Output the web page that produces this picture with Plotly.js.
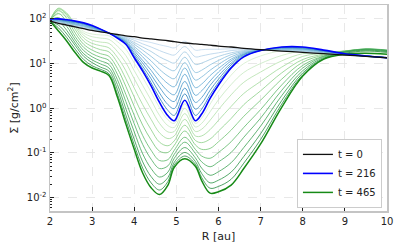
<!DOCTYPE html>
<html><head><meta charset="utf-8">
<script src="https://cdn.plot.ly/plotly-3.0.1.min.js"></script>
<style>html,body{margin:0;padding:0;background:#fff}</style>
</head><body><div id="chart" style="width:398px;height:247px"></div>
<script>
// Radial grid [au]
const R_au = [2.0,2.2,2.4,2.6,2.8,3.0,3.2,3.4,3.6,3.8,4.0,4.2,4.4,4.6,4.8,4.95,5.2,5.45,5.6,5.8,6.0,6.3,6.6,7.0,7.5,8.0,8.5,9.0,9.5,10.0];

// log10 of surface density Sigma [g/cm^2]
const logSigma_t0   = [1.95,1.90,1.86,1.82,1.78,1.74,1.71,1.68,1.65,1.62,1.60,1.57,1.55,1.53,1.51,1.49,1.46,1.44,1.43,1.41,1.39,1.37,1.34,1.31,1.28,1.25,1.22,1.19,1.16,1.13];
const logSigma_t216 = [2.00,2.00,1.98,1.95,1.91,1.85,1.77,1.68,1.57,1.43,1.13,0.83,0.50,0.13,-0.17,-0.28,0.18,-0.28,-0.13,0.22,0.52,0.90,1.15,1.29,1.37,1.37,1.30,1.22,1.17,1.13];
const logSigma_t465 = [1.95,1.73,1.50,1.24,1.02,0.90,0.83,0.73,0.25,-0.35,-0.92,-1.45,-1.78,-1.93,-1.72,-1.32,-1.13,-1.30,-1.62,-1.90,-1.87,-1.72,-1.35,-0.80,0.02,0.72,1.10,1.21,1.23,1.21];

// intermediate snapshots between t = 0 and t = 216 (blue family)
const blue_1  = [1.95,1.91,1.87,1.83,1.79,1.75,1.71,1.68,1.64,1.60,1.56,1.51,1.47,1.42,1.38,1.35,1.50,1.30,1.31,1.32,1.32,1.33,1.33,1.31,1.29,1.26,1.23,1.19,1.16,1.13];
const blue_2  = [1.96,1.92,1.88,1.84,1.80,1.76,1.72,1.68,1.64,1.59,1.52,1.44,1.37,1.29,1.22,1.19,1.38,1.15,1.17,1.21,1.24,1.29,1.31,1.31,1.30,1.27,1.23,1.20,1.16,1.13];
const blue_3  = [1.96,1.93,1.89,1.86,1.82,1.77,1.73,1.68,1.63,1.57,1.47,1.37,1.27,1.15,1.06,1.01,1.26,0.98,1.01,1.09,1.16,1.24,1.29,1.31,1.30,1.28,1.24,1.20,1.16,1.13];
const blue_4  = [1.97,1.94,1.90,1.87,1.83,1.78,1.73,1.68,1.62,1.55,1.43,1.30,1.16,1.01,0.89,0.84,1.14,0.80,0.85,0.97,1.07,1.20,1.27,1.30,1.31,1.29,1.25,1.20,1.16,1.13];
const blue_5  = [1.97,1.95,1.92,1.88,1.84,1.79,1.74,1.68,1.61,1.53,1.38,1.22,1.06,0.87,0.72,0.66,1.02,0.63,0.70,0.85,0.98,1.15,1.25,1.30,1.32,1.31,1.26,1.20,1.16,1.13];
const blue_6  = [1.98,1.96,1.93,1.89,1.85,1.80,1.74,1.68,1.60,1.51,1.33,1.15,0.95,0.73,0.55,0.48,0.90,0.46,0.54,0.73,0.89,1.10,1.23,1.30,1.33,1.32,1.27,1.21,1.17,1.13];
const blue_7  = [1.98,1.97,1.94,1.91,1.87,1.81,1.75,1.68,1.60,1.49,1.29,1.07,0.85,0.59,0.38,0.30,0.76,0.29,0.39,0.61,0.81,1.06,1.21,1.30,1.34,1.33,1.27,1.21,1.17,1.13];
const blue_8  = [1.99,1.98,1.95,1.92,1.88,1.82,1.76,1.68,1.59,1.48,1.24,1.01,0.75,0.47,0.23,0.15,0.60,0.13,0.24,0.51,0.73,1.01,1.20,1.30,1.35,1.34,1.28,1.21,1.17,1.13];
const blue_9  = [1.99,1.99,1.96,1.93,1.89,1.83,1.76,1.68,1.58,1.46,1.20,0.94,0.66,0.34,0.08,-0.01,0.45,-0.02,0.10,0.40,0.65,0.97,1.18,1.29,1.36,1.35,1.29,1.22,1.17,1.13];
const blue_10 = [2.00,1.99,1.97,1.94,1.90,1.84,1.77,1.68,1.58,1.44,1.16,0.88,0.57,0.23,-0.05,-0.16,0.32,-0.16,-0.02,0.30,0.58,0.93,1.16,1.29,1.36,1.36,1.29,1.22,1.17,1.13];

// intermediate snapshots between t = 216 and t = 465 (green family)
const green_1  = [1.97,2.10,2.05,1.90,1.72,1.66,1.64,1.62,1.49,1.32,1.01,0.69,0.36,0.01,-0.26,-0.34,0.10,-0.34,-0.22,0.09,0.38,0.74,1.00,1.17,1.29,1.33,1.29,1.25,1.23,1.20];
const green_2  = [1.97,2.16,2.10,1.88,1.68,1.60,1.57,1.54,1.39,1.18,0.84,0.51,0.18,-0.16,-0.39,-0.43,0.00,-0.42,-0.34,-0.08,0.19,0.53,0.80,1.00,1.18,1.28,1.27,1.27,1.28,1.24];
const green_3  = [1.97,2.21,2.13,1.86,1.63,1.52,1.48,1.45,1.27,1.02,0.66,0.31,-0.02,-0.34,-0.53,-0.52,-0.12,-0.52,-0.47,-0.27,-0.03,0.30,0.58,0.81,1.06,1.22,1.25,1.28,1.30,1.27];
const green_4  = [1.97,2.24,2.12,1.82,1.57,1.45,1.40,1.35,1.14,0.84,0.45,0.08,-0.25,-0.55,-0.68,-0.62,-0.25,-0.62,-0.62,-0.48,-0.27,0.04,0.33,0.60,0.92,1.16,1.23,1.28,1.31,1.28];
const green_5  = [1.97,2.23,2.08,1.76,1.50,1.38,1.31,1.26,1.02,0.66,0.25,-0.15,-0.48,-0.76,-0.84,-0.73,-0.38,-0.72,-0.77,-0.69,-0.51,-0.23,0.08,0.39,0.79,1.09,1.21,1.28,1.32,1.28];
const green_6  = [1.96,2.19,2.01,1.68,1.43,1.30,1.22,1.16,0.89,0.49,0.04,-0.38,-0.71,-0.96,-0.99,-0.83,-0.51,-0.82,-0.92,-0.90,-0.75,-0.49,-0.18,0.18,0.65,1.03,1.19,1.28,1.32,1.29];
const green_7  = [1.96,2.12,1.92,1.60,1.36,1.22,1.14,1.07,0.76,0.31,-0.16,-0.61,-0.94,-1.17,-1.15,-0.94,-0.65,-0.92,-1.07,-1.12,-0.99,-0.75,-0.43,-0.03,0.52,0.96,1.17,1.27,1.33,1.30];
const green_8  = [1.96,2.03,1.83,1.53,1.29,1.15,1.06,0.98,0.64,0.15,-0.35,-0.81,-1.14,-1.35,-1.29,-1.03,-0.76,-1.01,-1.20,-1.31,-1.20,-0.99,-0.65,-0.22,0.40,0.90,1.16,1.27,1.32,1.30];
const green_9  = [1.96,1.94,1.74,1.46,1.22,1.08,0.99,0.90,0.53,-0.01,-0.53,-1.02,-1.35,-1.54,-1.43,-1.12,-0.88,-1.11,-1.34,-1.50,-1.42,-1.22,-0.88,-0.40,0.28,0.84,1.14,1.26,1.32,1.29];
const green_10 = [1.95,1.86,1.66,1.40,1.16,1.02,0.92,0.83,0.42,-0.15,-0.70,-1.20,-1.53,-1.70,-1.55,-1.21,-0.99,-1.19,-1.46,-1.67,-1.61,-1.43,-1.08,-0.57,0.17,0.79,1.12,1.25,1.30,1.27];
const green_11 = [1.95,1.80,1.58,1.32,1.09,0.95,0.87,0.77,0.32,-0.26,-0.82,-1.34,-1.67,-1.83,-1.64,-1.27,-1.07,-1.25,-1.55,-1.79,-1.75,-1.59,-1.23,-0.70,0.09,0.75,1.11,1.23,1.28,1.25];

const blueSnapshots  = [blue_1,blue_2,blue_3,blue_4,blue_5,blue_6,blue_7,blue_8,blue_9,blue_10];
const greenSnapshots = [green_1,green_2,green_3,green_4,green_5,green_6,green_7,green_8,green_9,green_10,green_11];

const blueColors  = ['#c6dbef','#b7d4ea','#a6cbe3','#94c4df','#83bbdb','#6fb0d7','#5ea5d1','#4e9acb','#3f8fc5','#3182bd'];
const greenColors = ['#d4eecd','#c7e9c0','#b5e1ad','#a1d99b','#8ccf88','#74c476','#5fb96a','#4bac5f','#3ca153','#2e9548','#23893d'];

const toSigma = arr => arr.map(v => Math.pow(10, v));

const traces = [];
greenSnapshots.forEach((s, i) => traces.push({
  x: R_au, y: toSigma(s), mode: 'lines', showlegend: false, hoverinfo: 'skip',
  line: {color: greenColors[i], width: 1, shape: 'spline', smoothing: 1}, opacity: 0.8
}));
blueSnapshots.forEach((s, i) => traces.push({
  x: R_au, y: toSigma(s), mode: 'lines', showlegend: false, hoverinfo: 'skip',
  line: {color: blueColors[i], width: 1, shape: 'spline', smoothing: 1}, opacity: 0.85
}));
traces.push({x: R_au, y: toSigma(logSigma_t465), mode: 'lines', name: 't = 465', legendrank: 3,
  line: {color: '#168a16', width: 1.5, shape: 'spline', smoothing: 1}});
traces.push({x: R_au, y: toSigma(logSigma_t216), mode: 'lines', name: 't = 216', legendrank: 2,
  line: {color: '#0000ff', width: 1.6, shape: 'spline', smoothing: 1}});
traces.push({x: R_au, y: toSigma(logSigma_t0), mode: 'lines', name: 't = 0', legendrank: 1,
  line: {color: '#111111', width: 1.3, shape: 'spline', smoothing: 1}});

const yTickVals = [0.01, 0.1, 1, 10, 100];
const yTickText = ['10<sup>-2</sup>','10<sup>-1</sup>','10<sup>0</sup>','10<sup>1</sup>','10<sup>2</sup>'];

const layout = {
  width: 398, height: 247,
  margin: {l: 50, r: 11, t: 5, b: 36},
  paper_bgcolor: '#ffffff', plot_bgcolor: '#ffffff',
  font: {family: 'DejaVu Sans', size: 10, color: '#222'},
  showlegend: true,
  legend: {x: 0.985, y: 0.015, xanchor: 'right', yanchor: 'bottom', bgcolor: '#ffffff',
    bordercolor: '#cccccc', borderwidth: 1, font: {size: 10}, tracegroupgap: 0,
    itemwidth: 30},
  xaxis: {range: [2, 10], tick0: 2, dtick: 1, showgrid: true, gridcolor: '#e2e2e2', griddash: 'dash', gridwidth: 0.8,
    zeroline: false, showline: true, mirror: true, linecolor: '#c4c4c4', linewidth: 1.5,
    ticks: 'inside', ticklen: 4, tickcolor: '#222', tickwidth: 1,
    title: {text: 'R [au]', font: {size: 11}, standoff: 7}},
  yaxis: {type: 'log', range: [-2.30, 2.31], tickmode: 'array', tickvals: yTickVals, ticktext: yTickText,
    showgrid: true, gridcolor: '#e2e2e2', griddash: 'dash', gridwidth: 0.8,
    zeroline: false, showline: true, mirror: true, linecolor: '#c4c4c4', linewidth: 1.5,
    ticks: 'inside', ticklen: 4, tickcolor: '#222', tickwidth: 1,
    minor: {ticks: 'inside', ticklen: 2, tickcolor: '#222', dtick: 'D1', showgrid: false},
    title: {text: 'Σ [g/cm<sup>2</sup>]', font: {size: 11}, standoff: 6}}
};

Plotly.newPlot('chart', traces, layout, {displayModeBar: false, staticPlot: true});
</script></body></html>
